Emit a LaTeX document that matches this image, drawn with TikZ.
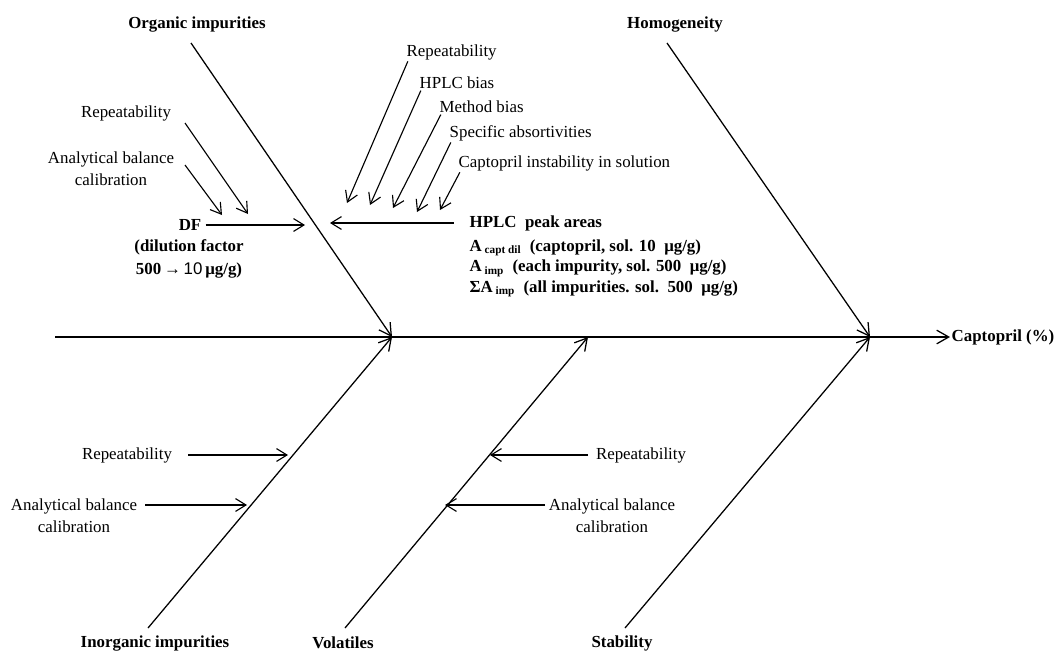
\documentclass[tikz,border=0pt]{standalone}
\usepackage{fontspec}
\setmainfont{Liberation Serif}
\setsansfont{Liberation Sans}
\usetikzlibrary{arrows.meta}

\begin{document}
\begin{tikzpicture}[
    x=0.025cm, y=-0.025cm,
    % Styles
    cat/.style={ % Main causes and effect
        font=\fontsize{12}{14}\selectfont\bfseries,
        inner sep=1pt
    },
    cause/.style={ % Sub-causes
        font=\fontsize{12}{15.5}\selectfont,
        align=center,
        inner sep=1pt
    },
    bone/.style={
        -{Straight Barb[length=3mm, width=3.4mm]},
        line width=0.9pt
    },
    twig/.style={ % Sub-cause arrows
        -{Straight Barb[length=2.6mm, width=3.2mm]},
        line width=0.8pt
    }
]
    \useasboundingbox (0,0) rectangle (1057,653);

    % Spine
    \coordinate (tail) at (55,337);
    \coordinate (j_org) at (392,337);
    \coordinate (j_vol) at (588,337);
    \coordinate (j_hom) at (870,337);
    \node[cat, anchor=west] at (950,337) (effect) {Captopril (\%)};
    \draw[bone] (tail) -- (effect.west);

    % Main causes
    \node[cat] at (197,25) (organic) {Organic impurities};
    \node[cat] at (675,25) (homog) {Homogeneity};
    \node[cat] at (155,643) (inorganic) {Inorganic impurities};
    \node[cat] at (343,643) (volatiles) {Volatiles};
    \node[cat] at (622,643) (stability) {Stability};

    \coordinate (s_org) at (191,43);
    \coordinate (s_hom) at (667,43);
    \coordinate (s_inorg) at (148,628);
    \coordinate (s_vol) at (345,628);
    \coordinate (s_stab) at (625,628);
    \foreach \s/\e in {s_org/j_org, s_hom/j_hom, s_inorg/j_org, s_vol/j_vol, s_stab/j_hom}
        \draw[bone] (\s) -- (\e);

    % Dilution factor
    \node[cat] at (190,225) (df) {DF};
    \node[cat, align=center, font=\fontsize{12}{16}\selectfont\bfseries] at (189,259) (dfnote)
        {(dilution factor\\500\,{\sffamily\mdseries →\,10\,}μg/g)};
    \coordinate (df_tip) at (305,225);
    \draw[twig, shorten <=2pt] (df.east) -- (df_tip);

    \node[cause] at (126,113) (rep1) {Repeatability};
    \node[cause] at (111,169) (bal1) {Analytical balance\\calibration};
    \coordinate (rep1_s) at (185,123);
    \coordinate (rep1_t) at (248,214);
    \coordinate (bal1_s) at (185,165);
    \coordinate (bal1_t) at (222,215);
    \draw[twig] (rep1_s) -- (rep1_t);
    \draw[twig] (bal1_s) -- (bal1_t);

    % HPLC peak areas
    \node[cat, anchor=west] at (468,223) (hplc) {HPLC\ \ peak areas};
    \node[cat, anchor=north west, align=left, font=\fontsize{12}{14.5}\selectfont\bfseries]
        at ([yshift=-4pt]hplc.south west) (areas)
        {A\,\textsubscript{capt dil}\enspace(captopril, sol. 10\enspace μg/g)\\
         A\,\textsubscript{imp}\enspace(each impurity, sol. 500\enspace μg/g)\\
         ΣA\,\textsubscript{imp}\enspace(all impurities. sol.\enspace 500\enspace μg/g)};
    \coordinate (hplc_tip) at (330,223);
    \draw[twig, shorten <=10pt] (hplc.west) -- (hplc_tip);

    \foreach \n/\x/\y/\t in {rep2/405/52/Repeatability, hbias/418/83/HPLC bias,
            mbias/438/107/Method bias, spec/448/133/Specific absortivities,
            instab/457/163/Captopril instability in solution}
        \node[cause, anchor=west] at (\x,\y) (\n) {\t};
    \foreach \n/\x/\y in {rep2/347/203, hbias/370/205, mbias/393/208, spec/417/212, instab/440/210} {
        \coordinate (\n_tip) at (\x,\y);
        \draw[twig] ([xshift=2pt]\n.south west) -- (\n_tip);
    }

    % Inorganic impurities
    \node[cause] at (127,455) (rep3) {Repeatability};
    \node[cause] at (74,516) (bal3) {Analytical balance\\calibration};
    \coordinate (rep3_s) at (188,455);
    \coordinate (rep3_t) at (288,455);
    \coordinate (bal3_s) at (145,505);
    \coordinate (bal3_t) at (247,505);
    \draw[twig] (rep3_s) -- (rep3_t);
    \draw[twig] (bal3_s) -- (bal3_t);

    % Volatiles
    \node[cause] at (641,455) (rep4) {Repeatability};
    \node[cause] at (612,516) (bal4) {Analytical balance\\calibration};
    \coordinate (rep4_s) at (588,455);
    \coordinate (rep4_t) at (490,455);
    \coordinate (bal4_s) at (545,505);
    \coordinate (bal4_t) at (445,505);
    \draw[twig] (rep4_s) -- (rep4_t);
    \draw[twig] (bal4_s) -- (bal4_t);
\end{tikzpicture}
\end{document}
